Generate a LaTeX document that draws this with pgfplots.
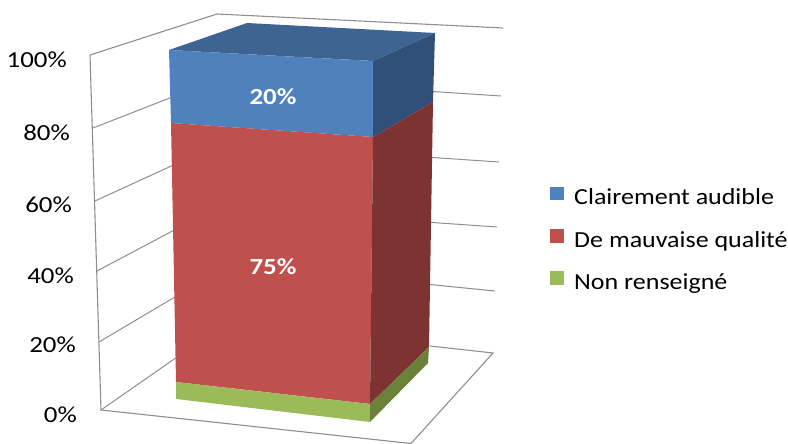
\documentclass[border=0pt]{standalone}
\usepackage{pgfplots}
\pgfplotsset{compat=1.18}
\usepackage{fontspec}
\setmainfont{Carlito}
\newfontfamily\lab[FakeStretch=1.13]{Carlito}
\newfontfamily\tck[FakeStretch=1.17]{Carlito}
\definecolor{bluef}{HTML}{4F81BD}
\definecolor{bluet}{HTML}{3F6492}
\definecolor{blues}{HTML}{305079}
\definecolor{redf}{HTML}{C0504D}
\definecolor{reds}{HTML}{7C3331}
\definecolor{greenf}{HTML}{9BBB59}
\definecolor{greens}{HTML}{6A813A}
\definecolor{gridc}{HTML}{8E8E8E}
\tikzset{
  tl/.style={font=\tck\fontsize{23}{26}\selectfont,anchor=east,inner sep=0pt},
  vl/.style={font=\tck\bfseries\fontsize{23}{26}\selectfont,text=white,inner sep=0pt},
  ll/.style={font=\lab\fontsize{23}{26}\selectfont,anchor=base west,inner sep=0pt},
}
\begin{document}
\begin{tikzpicture}
\begin{axis}[
  width=788pt,height=444pt,scale only axis,
  xmin=0,xmax=788,ymin=0,ymax=444,y dir=reverse,
  axis lines=none,
]
\path (axis cs:0,0) rectangle (axis cs:788,444);
% walls and floor
\addplot[gridc,line width=1.1pt] coordinates {(90,55)(217,14)(503,28)};
\addplot[gridc,line width=1.1pt] coordinates {(90,55)(101,410)(411,443.5)(493,353)(430,346)};
\addplot[gridc,line width=1pt] coordinates {(93,128)(180,94)};
\addplot[gridc,line width=1pt] coordinates {(95,201)(180,162)};
\addplot[gridc,line width=1pt] coordinates {(97,271)(180,227)};
\addplot[gridc,line width=1pt] coordinates {(99,342)(180,294)};
\addplot[gridc,line width=1pt] coordinates {(101,410)(180,355)};
\addplot[gridc,line width=1pt] coordinates {(425,91)(501,96)};
\addplot[gridc,line width=1pt] coordinates {(425,157)(499,162)};
\addplot[gridc,line width=1pt] coordinates {(425,222)(497,227)};
\addplot[gridc,line width=1pt] coordinates {(425,284)(495,291)};
% top
\addplot[fill=bluet,draw=none] coordinates {(169,50)(247,23)(435,33)(373,61)} --cycle;
% front faces
\addplot[fill=bluef,draw=none] coordinates {(169,50)(373,61)(373,137)(171,123)} --cycle;
\addplot[fill=redf,draw=none] coordinates {(171,123)(373,137)(370,404)(176,382)} --cycle;
\addplot[fill=greenf,draw=none] coordinates {(176,382)(370,404)(370,422)(176,399)} --cycle;
% side faces
\addplot[fill=blues,draw=none] coordinates {(373,61)(435,33)(433,102)(373,137)} --cycle;
\addplot[fill=reds,draw=none] coordinates {(373,137)(433,102)(429,347)(370,404)} --cycle;
\addplot[fill=greens,draw=none] coordinates {(370,404)(429,347)(428,363)(370,422)} --cycle;
% legend swatches
\addplot[fill=bluef,draw=none] coordinates {(550,187)(564,187)(564,200)(550,200)} --cycle;
\addplot[fill=redf,draw=none] coordinates {(550,229)(564,229)(564,243)(550,243)} --cycle;
\addplot[fill=greenf,draw=none] coordinates {(550,271)(564,271)(564,285)(550,285)} --cycle;
\node[ll] at (axis cs:574,204) {Clairement audible};
\node[ll] at (axis cs:574,247) {De mauvaise qualité};
\node[ll] at (axis cs:574,289) {Non renseigné};
% labels
\node[tl] at (axis cs:67,60) {100\%};
\node[tl] at (axis cs:70,133) {80\%};
\node[tl] at (axis cs:72,205) {60\%};
\node[tl] at (axis cs:74,276) {40\%};
\node[tl] at (axis cs:76,345) {20\%};
\node[tl] at (axis cs:77,415) {0\%};
\node[vl] at (axis cs:273,97) {20\%};
\node[vl] at (axis cs:273,267) {75\%};
\end{axis}
\end{tikzpicture}
\end{document}
